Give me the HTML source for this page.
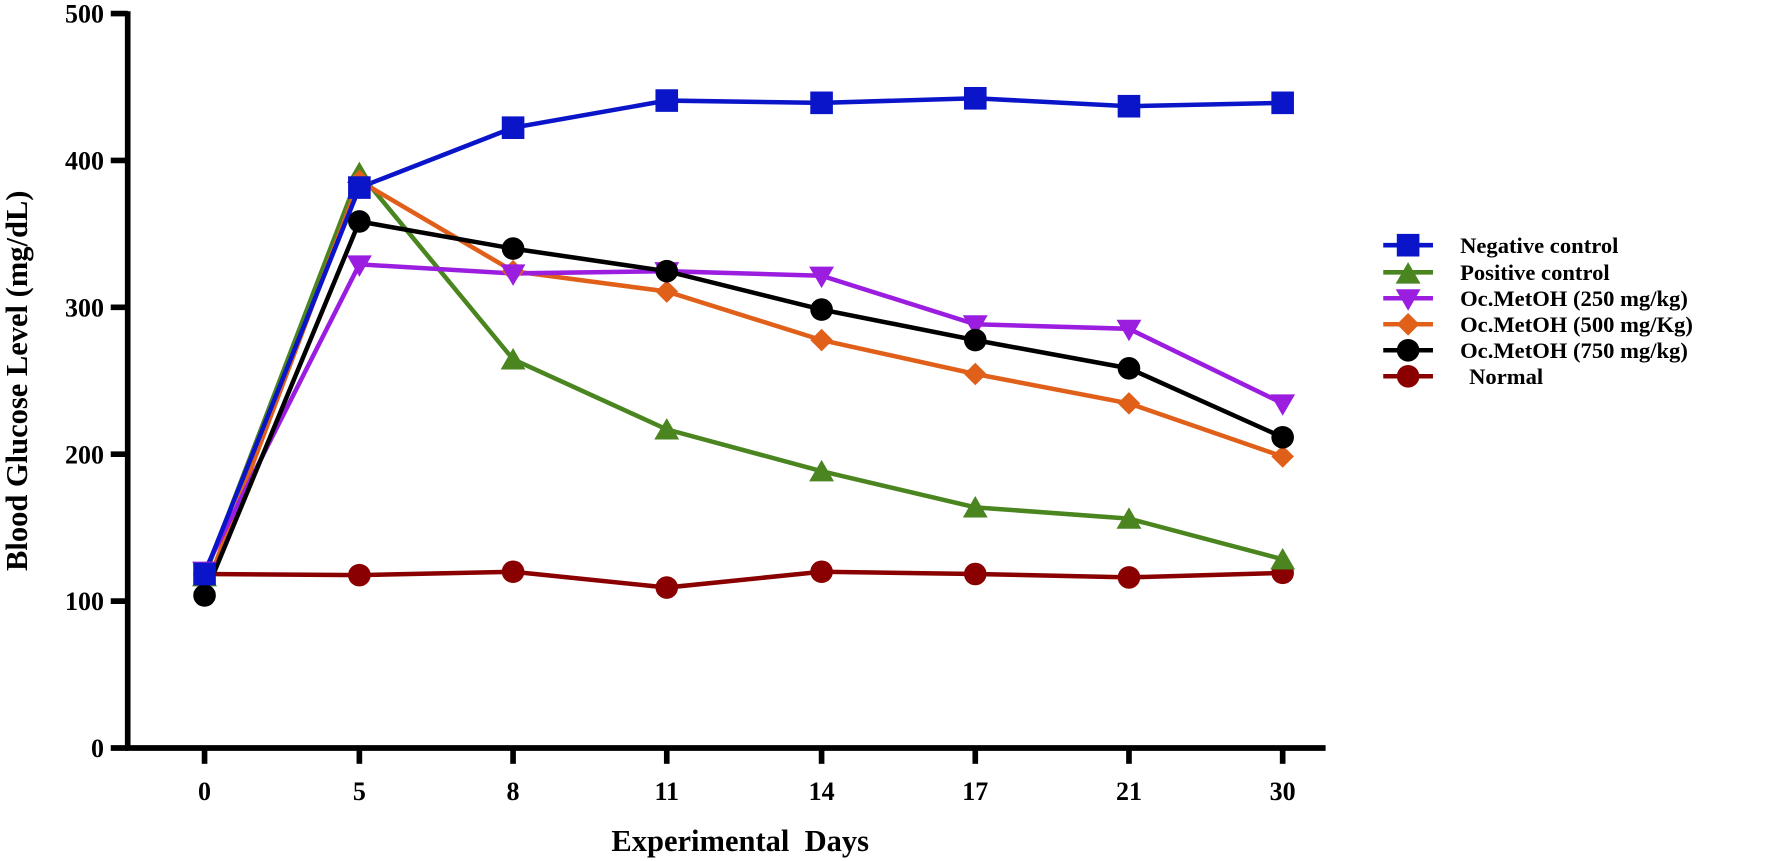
<!DOCTYPE html>
<html><head><style>body{margin:0;background:#fff}svg{display:block}text{font-family:"Liberation Serif",serif;font-weight:bold}</style></head>
<body>
<svg width="1772" height="861" viewBox="0 0 1568 762" preserveAspectRatio="none" xmlns="http://www.w3.org/2000/svg">
<g stroke="#000" stroke-width="5" fill="none">
<line x1="113" y1="10" x2="113" y2="664"/>
<line x1="111" y1="662" x2="1173" y2="662"/>
<line x1="98" y1="12" x2="113" y2="12"/><line x1="98" y1="142" x2="113" y2="142"/><line x1="98" y1="272" x2="113" y2="272"/><line x1="98" y1="402" x2="113" y2="402"/><line x1="98" y1="532" x2="113" y2="532"/><line x1="98" y1="662" x2="113" y2="662"/>
<line x1="181" y1="662" x2="181" y2="676"/><line x1="318" y1="662" x2="318" y2="676"/><line x1="454" y1="662" x2="454" y2="676"/><line x1="590" y1="662" x2="590" y2="676"/><line x1="727" y1="662" x2="727" y2="676"/><line x1="863" y1="662" x2="863" y2="676"/><line x1="999" y1="662" x2="999" y2="676"/><line x1="1135" y1="662" x2="1135" y2="676"/>
</g>
<g font-size="23" text-anchor="end">
<text x="92" y="20">500</text><text x="92" y="150">400</text><text x="92" y="280">300</text><text x="92" y="410">200</text><text x="92" y="540">100</text><text x="92" y="670">0</text>
</g>
<g font-size="23" text-anchor="middle">
<text x="181" y="708">0</text><text x="318" y="708">5</text><text x="454" y="708">8</text><text x="590" y="708">11</text><text x="727" y="708">14</text><text x="863" y="708">17</text><text x="999" y="708">21</text><text x="1135" y="708">30</text>
<text x="655" y="753" font-size="27" xml:space="preserve">Experimental  Days</text>
<text transform="translate(24,337) rotate(-90)" font-size="27">Blood Glucose Level (mg/dL)</text>
</g>
<g fill="none" stroke-width="4">
<polyline stroke="#8a0000" points="181,508 318,509 454,506 590,520 727,506 863,508 999,511 1135,507"/>
<polyline stroke="#4a8520" points="181,510 318,153 454,318 590,380 727,417 863,449 999,459 1135,495"/>
<polyline stroke="#e0601a" points="181,524 318,160 454,240 590,258 727,301 863,331 999,357 1135,404"/>
<polyline stroke="#9b1ee0" points="181,505 318,234 454,242 590,240 727,244 863,287 999,291 1135,357"/>
<polyline stroke="#000" points="181,527 318,196 454,220 590,240 727,274 863,301 999,326 1135,387"/>
<polyline stroke="#0a14c8" points="181,508 318,166 454,113 590,89 727,91 863,87 999,94 1135,91"/>
</g>
<g fill="#8a0000"><circle cx="181" cy="508" r="10"/><circle cx="318" cy="509" r="10"/><circle cx="454" cy="506" r="10"/><circle cx="590" cy="520" r="10"/><circle cx="727" cy="506" r="10"/><circle cx="863" cy="508" r="10"/><circle cx="999" cy="511" r="10"/><circle cx="1135" cy="507" r="10"/></g>
<g fill="#4a8520"><path d="M181,500 l11,19 h-22z"/><path d="M318,143 l11,19 h-22z"/><path d="M454,308 l11,19 h-22z"/><path d="M590,370 l11,19 h-22z"/><path d="M727,407 l11,19 h-22z"/><path d="M863,439 l11,19 h-22z"/><path d="M999,449 l11,19 h-22z"/><path d="M1135,485 l11,19 h-22z"/></g>
<g fill="#e0601a"><path d="M181,514 l10,10 -10,10 -10,-10z"/><path d="M318,150 l10,10 -10,10 -10,-10z"/><path d="M454,230 l10,10 -10,10 -10,-10z"/><path d="M590,248 l10,10 -10,10 -10,-10z"/><path d="M727,291 l10,10 -10,10 -10,-10z"/><path d="M863,321 l10,10 -10,10 -10,-10z"/><path d="M999,347 l10,10 -10,10 -10,-10z"/><path d="M1135,394 l10,10 -10,10 -10,-10z"/></g>
<g fill="#9b1ee0"><path d="M170,497 h22 l-11,19z"/><path d="M307,226 h22 l-11,19z"/><path d="M443,234 h22 l-11,19z"/><path d="M579,232 h22 l-11,19z"/><path d="M716,236 h22 l-11,19z"/><path d="M852,279 h22 l-11,19z"/><path d="M988,283 h22 l-11,19z"/><path d="M1124,349 h22 l-11,19z"/></g>
<g fill="#000"><circle cx="181" cy="527" r="10"/><circle cx="318" cy="196" r="10"/><circle cx="454" cy="220" r="10"/><circle cx="590" cy="240" r="10"/><circle cx="727" cy="274" r="10"/><circle cx="863" cy="301" r="10"/><circle cx="999" cy="326" r="10"/><circle cx="1135" cy="387" r="10"/></g>
<g fill="#0a14c8"><rect x="171" y="498" width="20" height="20"/><rect x="308" y="156" width="20" height="20"/><rect x="444" y="103" width="20" height="20"/><rect x="580" y="79" width="20" height="20"/><rect x="717" y="81" width="20" height="20"/><rect x="853" y="77" width="20" height="20"/><rect x="989" y="84" width="20" height="20"/><rect x="1125" y="81" width="20" height="20"/></g>
<g stroke-width="4">
<line x1="1224" y1="217" x2="1268" y2="217" stroke="#0a14c8"/><rect x="1236" y="207" width="20" height="20" fill="#0a14c8"/>
<line x1="1224" y1="241" x2="1268" y2="241" stroke="#4a8520"/><path d="M1246,232 l11,19 h-22z" fill="#4a8520"/>
<line x1="1224" y1="264" x2="1268" y2="264" stroke="#9b1ee0"/><path d="M1235,256 h22 l-11,19z" fill="#9b1ee0"/>
<line x1="1224" y1="287" x2="1268" y2="287" stroke="#e0601a"/><path d="M1246,277 l10,10 -10,10 -10,-10z" fill="#e0601a"/>
<line x1="1224" y1="310" x2="1268" y2="310" stroke="#000"/><circle cx="1246" cy="310" r="10" fill="#000"/>
<line x1="1224" y1="333" x2="1268" y2="333" stroke="#8a0000"/><circle cx="1246" cy="333" r="10" fill="#8a0000"/>
</g>
<g font-size="20">
<text x="1292" y="224">Negative control</text>
<text x="1292" y="248">Positive control</text>
<text x="1292" y="271">Oc.MetOH (250 mg/kg)</text>
<text x="1292" y="294">Oc.MetOH (500 mg/Kg)</text>
<text x="1292" y="317">Oc.MetOH (750 mg/kg)</text>
<text x="1300" y="340">Normal</text>
</g>
</svg>
</body></html>
